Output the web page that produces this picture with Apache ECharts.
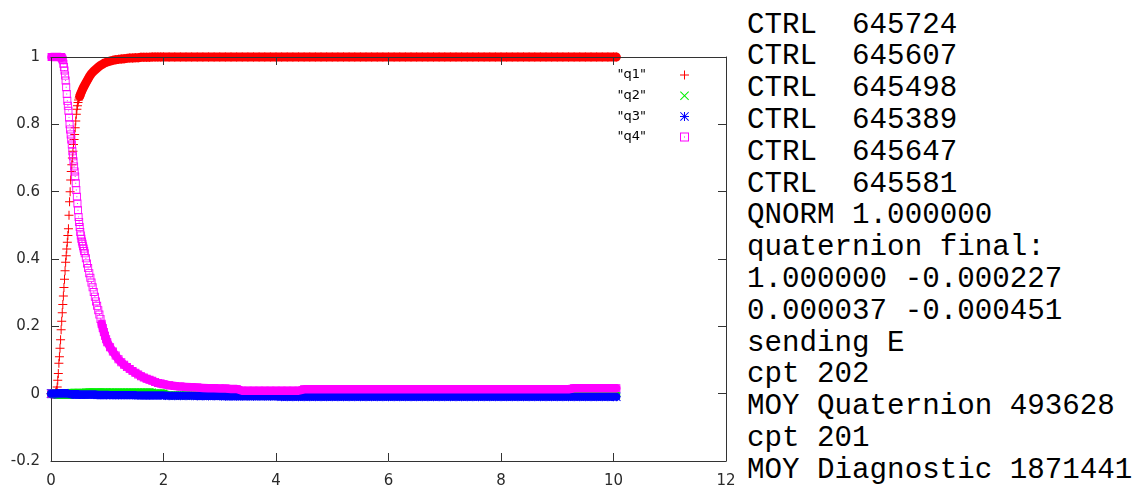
<!DOCTYPE html>
<html>
<head>
<meta charset="utf-8">
<script src="https://cdn.jsdelivr.net/npm/echarts@6/dist/echarts.min.js"></script>
<style>
  html, body { margin: 0; padding: 0; background: #fff; }
  #wrap { position: relative; width: 1136px; height: 500px; overflow: hidden; }
  #chart { position: absolute; left: 0; top: 0; width: 1136px; height: 500px; }
  #term {
    position: absolute; left: 747px; top: 0; width: 389px; height: 500px;
    margin: 0; padding: 9.6px 0 0 0; box-sizing: border-box;
    background: #fff; color: #000;
    font-family: "Liberation Mono", "DejaVu Sans Mono", monospace;
    font-size: 29.2px; line-height: 31.8px; white-space: pre; overflow: hidden;
  }
</style>
</head>
<body>
<div id="wrap">
  <div id="chart"></div>
  <pre id="term"></pre>
</div>
<script>
// ---- data ----
const t = [
  0,0.01,0.02,0.03,0.04,0.05,0.06,0.07,0.08,0.09,
  0.10,0.11,0.12,0.13,0.14,0.15,0.16,0.17,0.18,0.19,
  0.20,0.21,0.22,0.23,0.24,0.25,0.26,0.27,0.28,0.29,
  0.30,0.31,0.32,0.33,0.34,0.35,0.36,0.37,0.38,0.39,
  0.40,0.41,0.42,0.43,0.44,0.45,0.46,0.47,0.48,0.49,
  0.50,0.51,0.52,0.53,0.54,0.55,0.56,0.57,0.58,0.59,
  0.60,
  0.62,0.64,0.66,0.68,0.70,0.72,0.74,0.76,0.78,0.80,
  0.82,0.84,0.86,0.88,0.90,0.92,0.94,0.96,0.98,1.00,
  1.05,1.10,1.15,1.20,1.25,1.30,1.35,1.40,1.45,1.50,
  1.55,1.60,1.65,1.70,1.75,1.80,1.85,1.90,1.95,2.00,
  2.1,2.2,2.3,2.4,2.5,2.6,2.7,2.8,2.9,
  3.0,3.1,3.2,3.3,3.4,3.5,3.6,3.7,3.8,3.9,
  4.0,4.1,4.2,4.3,4.4,4.5,4.6,4.7,4.8,4.9,
  5.0,5.1,5.2,5.3,5.4,5.5,5.6,5.7,5.8,5.9,
  6.0,6.1,6.2,6.3,6.4,6.5,6.6,6.7,6.8,6.9,
  7.0,7.1,7.2,7.3,7.4,7.5,7.6,7.7,7.8,7.9,
  8.0,8.1,8.2,8.3,8.4,8.5,8.6,8.7,8.8,8.9,
  9.0,9.1,9.2,9.3,9.4,9.5,9.6,9.7,9.8,9.9,
  10.0,10.05
];

const q1 = [
  0,0,0,0,0,0,0,0,0.002,0.005,
  0.01,0.02,0.04,0.06,0.09,0.11,0.135,0.16,0.19,0.215,
  0.24,0.265,0.29,0.315,0.34,0.365,0.39,0.41,0.43,0.45,
  0.47,0.49,0.53,0.57,0.60,0.635,0.66,0.68,0.70,0.72,
  0.74,0.755,0.77,0.79,0.81,0.83,0.845,0.855,0.865,0.872,
  0.878,0.883,0.888,0.892,0.896,0.900,0.904,0.907,0.911,0.914,
  0.917,
  0.923,0.929,0.935,0.941,0.946,0.951,0.955,0.958,0.961,0.964,
  0.967,0.970,0.973,0.975,0.977,0.979,0.981,0.983,0.984,0.985,
  0.988,0.990,0.992,0.993,0.994,0.995,0.996,0.997,0.997,0.998,
  0.998,0.999,0.999,0.999,0.999,1,1,1,1,1,
  1,1,1,1,1,1,1,1,1,
  1,1,1,1,1,1,1,1,1,1,
  1,1,1,1,1,1,1,1,1,1,
  1,1,1,1,1,1,1,1,1,1,
  1,1,1,1,1,1,1,1,1,1,
  1,1,1,1,1,1,1,1,1,1,
  1,1,1,1,1,1,1,1,1,1,
  1,1,1,1,1,1,1,1,1,1,
  1,1
];

const q2 = [
  0,0,0,0,0,0,0,0,0,0,
  0,-0.003,-0.003,-0.003,-0.003,-0.003,-0.003,-0.003,-0.003,-0.003,
  -0.003,-0.003,-0.003,-0.003,-0.003,-0.003,-0.003,-0.003,-0.003,-0.003,
  -0.003,-0.003,-0.003,-0.003,-0.003,-0.003,0.003,0.003,0.003,0.003,
  0.003,0.003,0.003,0.003,0.003,0.003,0.003,0.003,0.003,0.003,
  0.003,0.003,0.003,0.003,0.003,0.003,0.003,0.003,0.003,0.003,
  0.003,
  0.004,0.004,0.004,0.004,0.004,0.004,0.004,0.004,0.004,0.004,
  0.004,0.004,0.004,0.004,0.004,0.004,0.004,0.004,0.004,0.004,
  0.004,0.004,0.004,0.004,0.004,0.004,0.004,0.004,0.004,0.004,
  0.004,0.004,0.004,0.004,0.004,0.004,0.001,0.001,0.001,0.001,
  -0.005,-0.005,-0.005,-0.005,-0.005,-0.005,-0.005,-0.005,-0.005,
  -0.005,-0.005,-0.005,-0.005,-0.005,-0.005,-0.005,-0.005,-0.005,-0.005,
  -0.005,-0.005,-0.005,-0.005,-0.005,-0.005,-0.005,-0.005,-0.005,-0.005,
  -0.005,-0.005,-0.005,-0.005,-0.005,-0.005,-0.005,-0.005,-0.005,-0.005,
  -0.005,-0.005,-0.005,-0.005,-0.005,-0.005,-0.005,-0.005,-0.005,-0.005,
  -0.005,-0.005,-0.005,-0.005,-0.005,-0.005,-0.005,-0.005,-0.005,-0.005,
  -0.005,-0.005,-0.005,-0.005,-0.005,-0.005,-0.005,-0.005,-0.005,-0.005,
  -0.005,-0.005,-0.005,-0.005,-0.005,-0.005,-0.005,-0.005,-0.005,-0.005,
  -0.005,-0.005
];

const q3 = [
  0,0,0,0,0,0,0,0,0,0,
  0,0,0,0,0,0,0,0,0,0,
  0,0,0,0,0,0,0,0,0,0,
  0,-0.001,-0.001,-0.001,-0.001,-0.001,-0.001,-0.001,-0.001,-0.001,
  -0.001,-0.001,-0.001,-0.001,-0.001,-0.001,-0.001,-0.001,-0.001,-0.001,
  -0.002,-0.002,-0.002,-0.002,-0.002,-0.002,-0.002,-0.002,-0.002,-0.002,
  -0.002,
  -0.002,-0.002,-0.002,-0.002,-0.002,-0.002,-0.002,-0.002,-0.002,-0.002,
  -0.003,-0.003,-0.003,-0.003,-0.003,-0.003,-0.003,-0.003,-0.003,-0.003,
  -0.004,-0.004,-0.004,-0.004,-0.004,-0.004,-0.004,-0.004,-0.004,-0.004,
  -0.005,-0.005,-0.005,-0.005,-0.005,-0.005,-0.005,-0.005,-0.005,-0.005,
  -0.006,-0.006,-0.006,-0.006,-0.006,-0.007,-0.007,-0.007,-0.007,
  -0.007,-0.008,-0.008,-0.008,-0.008,-0.008,-0.008,-0.008,-0.008,-0.008,
  -0.008,-0.009,-0.009,-0.009,-0.009,-0.009,-0.009,-0.009,-0.009,-0.009,
  -0.009,-0.009,-0.009,-0.009,-0.009,-0.009,-0.009,-0.009,-0.009,-0.009,
  -0.009,-0.009,-0.009,-0.009,-0.009,-0.009,-0.009,-0.009,-0.009,-0.009,
  -0.009,-0.009,-0.009,-0.009,-0.009,-0.009,-0.009,-0.009,-0.009,-0.009,
  -0.009,-0.009,-0.009,-0.009,-0.009,-0.009,-0.009,-0.009,-0.009,-0.009,
  -0.009,-0.009,-0.009,-0.009,-0.009,-0.009,-0.009,-0.009,-0.009,-0.009,
  -0.009,-0.009
];

const q4 = [
  0,1,1,1,1,1,1,1,1,1,
  1,1,1,1,1,1,1,1,1,0.998,
  0.995,0.99,0.98,0.97,0.96,0.945,0.93,0.91,0.89,0.87,
  0.855,0.84,0.82,0.80,0.785,0.77,0.755,0.74,0.72,0.705,
  0.69,0.675,0.66,0.645,0.625,0.605,0.585,0.565,0.545,0.525,
  0.51,0.495,0.48,0.47,0.46,0.452,0.445,0.438,0.431,0.424,
  0.417,
  0.402,0.387,0.373,0.358,0.344,0.330,0.316,0.302,0.288,0.274,
  0.261,0.248,0.235,0.222,0.208,0.195,0.183,0.172,0.162,0.153,
  0.138,0.125,0.113,0.102,0.093,0.086,0.079,0.073,0.067,0.062,
  0.057,0.052,0.048,0.044,0.041,0.038,0.035,0.032,0.030,0.028,
  0.025,0.023,0.021,0.020,0.019,0.018,0.017,0.016,0.016,
  0.015,0.015,0.014,0.014,0.009,0.009,0.009,0.009,0.009,0.009,
  0.009,0.009,0.009,0.009,0.009,0.013,0.013,0.013,0.013,0.013,
  0.013,0.013,0.013,0.013,0.013,0.013,0.013,0.013,0.013,0.013,
  0.013,0.013,0.013,0.013,0.013,0.013,0.013,0.013,0.013,0.013,
  0.013,0.013,0.013,0.013,0.013,0.013,0.013,0.013,0.013,0.013,
  0.013,0.013,0.013,0.013,0.013,0.013,0.013,0.013,0.013,0.013,
  0.013,0.013,0.013,0.016,0.016,0.016,0.016,0.016,0.016,0.016,
  0.016,0.016
];

const seriesNames = ['"q1"', '"q2"', '"q3"', '"q4"'];
const seriesColors = ['#ff0000', '#00ee00', '#0000ff', '#ff00ff'];
// x ranges where the plotted points are so dense that they merge into a solid band
const denseRanges = [
  [[0.51, 10.05]],
  [[0, 10.05]],
  [[0, 10.05]],
  [[0.01, 0.19], [0.90, 10.05]]
];
const xTicks = { min: 0, max: 12, interval: 2 };
const yTicks = { min: -0.2, max: 1, interval: 0.2 };

const termLines = [
  'CTRL  645724',
  'CTRL  645607',
  'CTRL  645498',
  'CTRL  645389',
  'CTRL  645647',
  'CTRL  645581',
  'QNORM 1.000000',
  'quaternion final:',
  '1.000000 -0.000227',
  '0.000037 -0.000451',
  'sending E',
  'cpt 202',
  'MOY Quaternion 493628',
  'cpt 201',
  'MOY Diagnostic 1871441'
];

// ---- rendering ----
document.getElementById('term').textContent = termLines.join('\n');

const SYM_PLUS = 'path://M4,0H5V4H9V5H5V9H4V5H0V4H4Z';
const SYM_CROSS = 'path://M0,0.7L0.7,0L9,8.3L8.3,9Z M8.3,0L9,0.7L0.7,9L0,8.3Z';
const SYM_STAR = 'path://M4,0H5V4H9V5H5V9H4V5H0V4H4Z M0,0.7L0.7,0L9,8.3L8.3,9Z M8.3,0L9,0.7L0.7,9L0,8.3Z';
const SYM_BOX = 'path://M0,0H9V9H0Z M1,1V8H8V1Z M4,4H5V5H4Z';
const symbols = [SYM_PLUS, SYM_CROSS, SYM_STAR, SYM_BOX];
const sizes = [9, 8, 9, 8];
const bandWidths = [9, 8, 8, 8.5];
const values = [q1, q2, q3, q4];

const FONT = 'DejaVu Sans';
const AXIS_COLOR = '#333';
const LABEL_STYLE = { fontFamily: FONT, fontSize: 15, color: '#2a2a2a' };

function pairs(ys) { return t.map((x, i) => [x, ys[i]]); }
function bandData(ys, ranges) {
  const out = [];
  ranges.forEach((r, k) => {
    if (k > 0) out.push([null, null]);
    t.forEach((x, i) => { if (x >= r[0] - 1e-9 && x <= r[1] + 1e-9) out.push([x, ys[i]]); });
  });
  return out;
}

const series = [];
seriesNames.forEach((name, i) => {
  series.push({
    name: name + ' dense',
    type: 'line',
    data: bandData(values[i], denseRanges[i]),
    showSymbol: false,
    symbol: 'none',
    connectNulls: false,
    lineStyle: { color: seriesColors[i], width: bandWidths[i], cap: 'round', join: 'round' },
    itemStyle: { color: seriesColors[i] },
    emphasis: { disabled: true },
    silent: true,
    clip: false
  });
  series.push({
    name: name,
    type: 'scatter',
    data: pairs(values[i]),
    symbol: symbols[i],
    symbolSize: sizes[i],
    itemStyle: { color: seriesColors[i], opacity: 1 },
    emphasis: { disabled: true },
    clip: false
  });
});

function axisLabel(margin) {
  return {
    margin: margin,
    fontFamily: FONT, fontSize: 15, color: '#2a2a2a',
    formatter: function (v) { return '{l|' + v + '}'; },
    rich: { l: LABEL_STYLE }
  };
}

const chart = echarts.init(document.getElementById('chart'), null, { renderer: 'canvas' });
chart.setOption({
  animation: false,
  backgroundColor: '#fff',
  grid: { left: 51, right: 410, top: 57, bottom: 39, containLabel: false },
  legend: {
    data: seriesNames,
    orient: 'vertical',
    right: 447,
    top: 68,
    padding: 0,
    align: 'right',
    itemWidth: 9,
    itemHeight: 9,
    itemGap: 6.7,
    selectedMode: false,
    textStyle: { fontFamily: FONT, fontSize: 13, lineHeight: 14, color: '#000', padding: [0, 29, 0, 0] }
  },
  xAxis: [
    {
      type: 'value', position: 'bottom', min: xTicks.min, max: xTicks.max, interval: xTicks.interval,
      axisLine: { show: true, onZero: false, lineStyle: { color: AXIS_COLOR, width: 1 } },
      axisTick: { show: true, inside: true, length: 8, lineStyle: { color: AXIS_COLOR } },
      axisLabel: axisLabel(13),
      splitLine: { show: false }
    },
    {
      type: 'value', position: 'top', min: xTicks.min, max: xTicks.max, interval: xTicks.interval, z: 5,
      axisLine: { show: true, onZero: false, lineStyle: { color: AXIS_COLOR, width: 1 } },
      axisTick: { show: true, inside: true, length: 8, lineStyle: { color: AXIS_COLOR } },
      axisLabel: { show: false },
      splitLine: { show: false }
    }
  ],
  yAxis: [
    {
      type: 'value', position: 'left', min: yTicks.min, max: yTicks.max, interval: yTicks.interval,
      axisLine: { show: true, onZero: false, lineStyle: { color: AXIS_COLOR, width: 1 } },
      axisTick: { show: true, inside: true, length: 8, lineStyle: { color: AXIS_COLOR } },
      axisLabel: axisLabel(11),
      splitLine: { show: false }
    },
    {
      type: 'value', position: 'right', min: yTicks.min, max: yTicks.max, interval: yTicks.interval,
      axisLine: { show: true, onZero: false, lineStyle: { color: AXIS_COLOR, width: 1 } },
      axisTick: { show: true, inside: true, length: 8, lineStyle: { color: AXIS_COLOR } },
      axisLabel: { show: false },
      splitLine: { show: false }
    }
  ],
  series: series
});
</script>
</body>
</html>
